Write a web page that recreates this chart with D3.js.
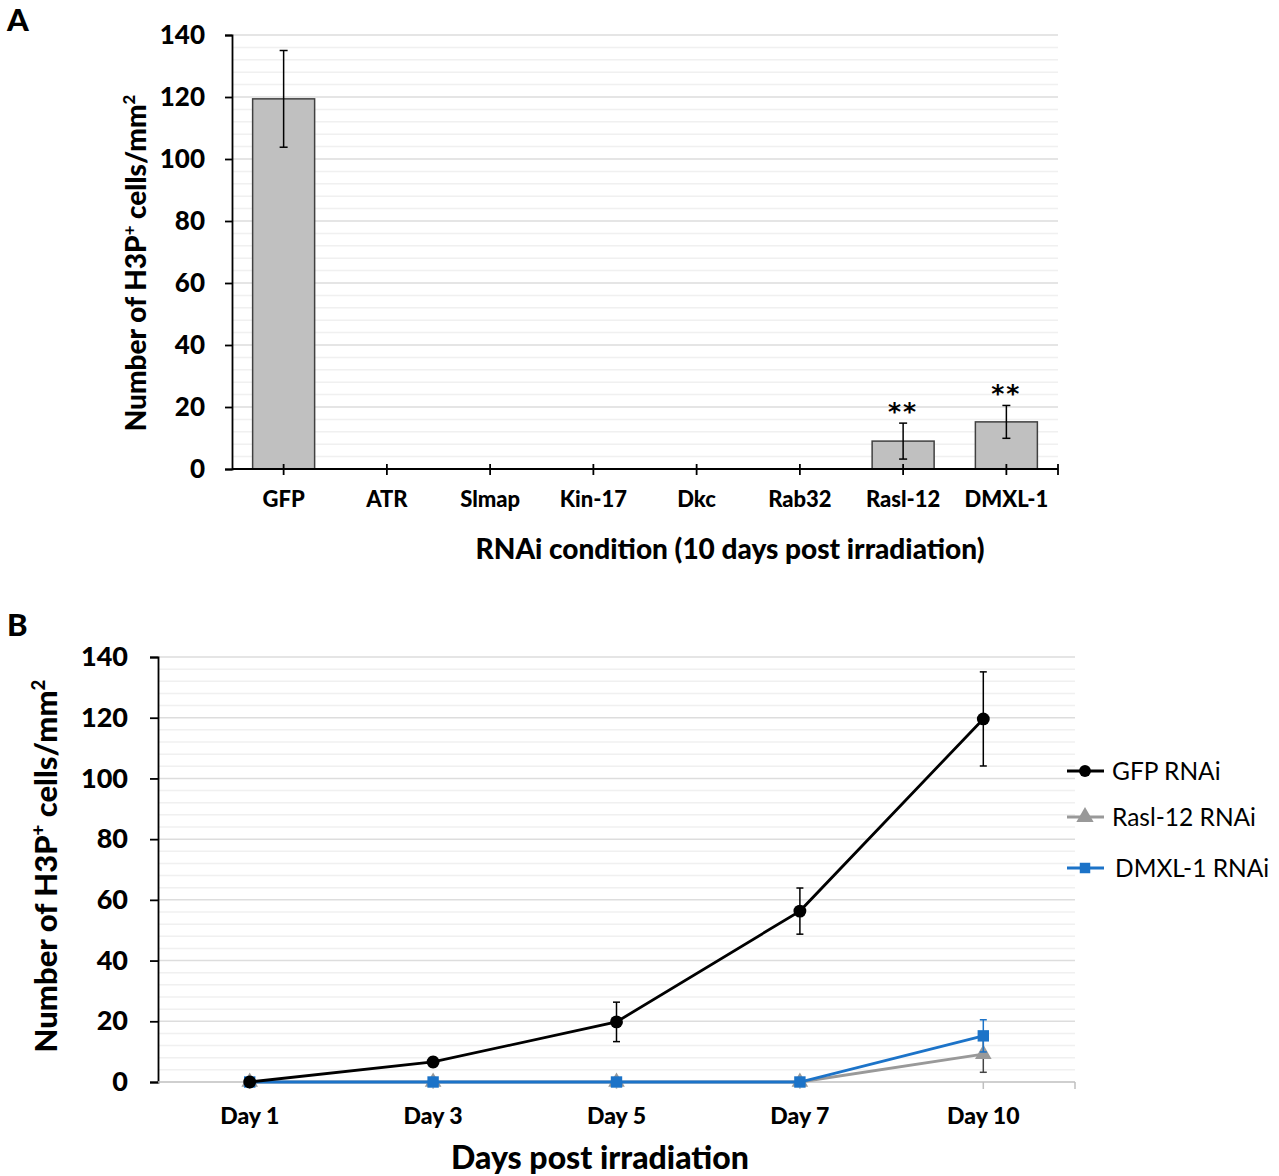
<!DOCTYPE html>
<html>
<head>
<meta charset="utf-8">
<script src="https://cdn.jsdelivr.net/npm/d3@7"></script>
<style>
  body { margin: 0; background: #fff; }
  svg { display: block; font-family: Lato, "Open Sans", sans-serif; }
</style>
</head>
<body>
<svg id="chart" width="1279" height="1176"></svg>
<script>
// Panel A: H3P+ cell counts by RNAi condition, 10 days post irradiation
const conditions = ["GFP", "ATR", "Slmap", "Kin-17", "Dkc", "Rab32", "Rasl-12", "DMXL-1"];
const condMeans  = [119.4, 0, 0, 0, 0, 0, 9.0, 15.2];
const condErrors = [15.6, 0, 0, 0, 0, 0, 5.8, 5.3];
const condStars  = ["", "", "", "", "", "", "**", "**"];

// Panel B: time course
const days = ["Day 1", "Day 3", "Day 5", "Day 7", "Day 10"];
const gfpMeans   = [0, 6.6, 19.8, 56.3, 119.6];
const gfpErrors  = [0, 1.5, 6.5, 7.6, 15.5];
const raslMeans  = [0, 0, 0, 0, 9.2];
const raslErrors = [0, 0, 0, 0, 6.0];
const dmxlMeans  = [0, 0, 0, 0, 15.2];
const dmxlErrors = [0, 0, 0, 0, 5.3];
const seriesNames = ["GFP RNAi", "Rasl-12 RNAi", "DMXL-1 RNAi"];

const yTicks = [0, 20, 40, 60, 80, 100, 120, 140];
const HEAVY = 900;

const svg = d3.select("#chart");

function gridlines(g, y, x0, x1) {
  const minor = d3.range(0, 141, 4).filter(v => v % 20 !== 0);
  g.selectAll(".minor").data(minor).join("line")
    .attr("x1", x0).attr("x2", x1)
    .attr("y1", d => y(d)).attr("y2", d => y(d))
    .attr("stroke", "#f0f0f0").attr("stroke-width", 1.5);
  g.selectAll(".major").data(yTicks.slice(1)).join("line")
    .attr("x1", x0).attr("x2", x1)
    .attr("y1", d => y(d)).attr("y2", d => y(d))
    .attr("stroke", "#dddddd").attr("stroke-width", 1.5);
}

function yAxisTitle(g, cx, cy, size) {
  const t = g.append("text")
    .attr("transform", `translate(${cx},${cy}) rotate(-90)`)
    .attr("text-anchor", "middle")
    .attr("font-weight", HEAVY)
    .attr("font-size", size)
    .attr("fill", "#000");
  t.append("tspan").text("Number of H3P");
  t.append("tspan").text("+").attr("font-size", size * 0.6).attr("dy", -size * 0.4);
  t.append("tspan").text(" cells/mm").attr("font-size", size).attr("dy", size * 0.4);
  t.append("tspan").text("2").attr("font-size", size * 0.6).attr("dy", -size * 0.4);
}

function styleAxis(g, fontSize) {
  g.selectAll(".domain").attr("stroke", "#000").attr("stroke-width", 1.8);
  g.selectAll(".tick line").attr("stroke", "#000").attr("stroke-width", 1.8);
  g.selectAll(".tick text").attr("font-size", fontSize).attr("font-weight", HEAVY)
    .attr("fill", "#000").attr("font-family", "Lato, 'Open Sans', sans-serif");
}

// ---------- Panel A ----------
{
  const left = 232, right = 1058, top = 35, bottom = 469;
  const xc = d3.scaleBand().domain(conditions).range([left, right]);
  const y = d3.scaleLinear().domain([0, 140]).range([bottom, top]);
  const g = svg.append("g");

  gridlines(g.append("g"), y, left, right);

  const bars = conditions.map((c, i) => ({ c, v: condMeans[i], e: condErrors[i], s: condStars[i] }));

  g.append("g").selectAll("rect").data(bars.filter(d => d.v > 0)).join("rect")
    .attr("x", d => xc(d.c) + xc.bandwidth() / 2 - 31)
    .attr("width", 62)
    .attr("y", d => y(d.v))
    .attr("height", d => y(0) - y(d.v))
    .attr("fill", "#c0c0c0").attr("stroke", "#404040").attr("stroke-width", 1.5);

  const eb = g.append("g").selectAll("g").data(bars.filter(d => d.e > 0)).join("g")
    .attr("transform", d => `translate(${xc(d.c) + xc.bandwidth() / 2},0)`);
  eb.append("line").attr("y1", d => y(d.v + d.e)).attr("y2", d => y(d.v - d.e))
    .attr("stroke", "#000").attr("stroke-width", 1.5);
  eb.append("line").attr("x1", -4).attr("x2", 4).attr("y1", d => y(d.v + d.e)).attr("y2", d => y(d.v + d.e))
    .attr("stroke", "#000").attr("stroke-width", 1.5);
  eb.append("line").attr("x1", -4).attr("x2", 4).attr("y1", d => y(d.v - d.e)).attr("y2", d => y(d.v - d.e))
    .attr("stroke", "#000").attr("stroke-width", 1.5);
  // significance stars above the error bars
  eb.filter(d => d.s).append("text")
    .attr("y", d => y(d.v + d.e) - 3)
    .attr("text-anchor", "middle")
    .attr("font-size", 25).attr("font-weight", "bold")
    .attr("font-family", "'DejaVu Sans', sans-serif")
    .attr("letter-spacing", 2)
    .text(d => d.s);

  // y axis
  const ya = g.append("g").attr("transform", `translate(${left},0)`)
    .call(d3.axisLeft(y).tickValues(yTicks).tickSize(7).tickPadding(20));
  styleAxis(ya, 26);

  // x axis: ticks at category centres plus the closing tick at the right end
  const xa = g.append("g").attr("transform", `translate(0,${bottom})`)
    .call(d3.axisBottom(xc).tickSize(0).tickPadding(22));
  styleAxis(xa, 22);
  xa.select(".domain").attr("d", `M${left},0H${right}`);
  const tickXs = conditions.map(c => xc(c) + xc.bandwidth() / 2).concat([right]);
  xa.selectAll(".xt").data(tickXs).join("line")
    .attr("x1", d => d).attr("x2", d => d).attr("y1", -5).attr("y2", 6)
    .attr("stroke", "#000").attr("stroke-width", 1.8);

  yAxisTitle(g, 146, 263, 28);

  g.append("text").attr("x", 730).attr("y", 559).attr("text-anchor", "middle")
    .attr("font-weight", HEAVY).attr("font-size", 28).text("RNAi condition (10 days post irradiation)");

  g.append("text").attr("x", 7).attr("y", 31).attr("font-weight", HEAVY).attr("font-size", 31).text("A");
}

// ---------- Panel B ----------
{
  const left = 158, right = 1075, top = 657, bottom = 1082;
  const x = d3.scaleBand().domain(days).range([left, right]);
  const cx = d => x(d) + x.bandwidth() / 2;
  const y = d3.scaleLinear().domain([0, 140]).range([bottom, top]);
  const g = svg.append("g");

  gridlines(g.append("g"), y, left, right);

  const ya = g.append("g").attr("transform", `translate(${left},0)`)
    .call(d3.axisLeft(y).tickValues(yTicks).tickSize(8).tickPadding(22));
  styleAxis(ya, 27);

  const xa = g.append("g").attr("transform", `translate(0,${bottom})`)
    .call(d3.axisBottom(x).tickSize(0).tickPadding(26));
  styleAxis(xa, 23);
  xa.select(".domain").attr("stroke", "#bfbfbf").attr("stroke-width", 1.5).attr("d", `M${left},0H${right}`);
  const tickXs = days.map(cx).concat([right]);
  xa.selectAll(".xt").data(tickXs).join("line")
    .attr("x1", d => d).attr("x2", d => d).attr("y1", 0).attr("y2", 7)
    .attr("stroke", "#bfbfbf").attr("stroke-width", 1.5);

  const series = [
    { name: seriesNames[0], means: gfpMeans, errs: gfpErrors, color: "#000000", marker: "circle", capColor: "#000" },
    { name: seriesNames[1], means: raslMeans, errs: raslErrors, color: "#999999", marker: "triangle", capColor: "#444" },
    { name: seriesNames[2], means: dmxlMeans, errs: dmxlErrors, color: "#1c73c8", marker: "square", capColor: "#1c73c8" }
  ];

  const line = d3.line().x(d => cx(d.day)).y(d => y(d.v));
  const sym = { circle: d3.symbolCircle, triangle: d3.symbolTriangle, square: d3.symbolSquare };

  // draw Rasl first so the blue line sits on top, GFP last
  const order = [series[1], series[2], series[0]];
  order.forEach(s => {
    const pts = days.map((day, i) => ({ day, v: s.means[i], e: s.errs[i] }));
    const sg = g.append("g");
    sg.append("path").datum(pts).attr("d", line)
      .attr("fill", "none").attr("stroke", s.color).attr("stroke-width", 2.8);
    const eg = sg.selectAll(".eb").data(pts.filter(p => p.e > 0)).join("g")
      .attr("transform", p => `translate(${cx(p.day)},0)`);
    eg.append("line").attr("y1", p => y(p.v + p.e)).attr("y2", p => y(p.v - p.e))
      .attr("stroke", s.capColor).attr("stroke-width", 1.5);
    eg.append("line").attr("x1", -3.5).attr("x2", 3.5).attr("y1", p => y(p.v + p.e)).attr("y2", p => y(p.v + p.e))
      .attr("stroke", s.capColor).attr("stroke-width", 1.5);
    eg.append("line").attr("x1", -3.5).attr("x2", 3.5).attr("y1", p => y(p.v - p.e)).attr("y2", p => y(p.v - p.e))
      .attr("stroke", s.capColor).attr("stroke-width", 1.5);
    sg.selectAll(".mk").data(pts).join("path")
      .attr("transform", p => `translate(${cx(p.day)},${y(p.v)})`)
      .attr("d", d3.symbol().type(sym[s.marker]).size(s.marker === "triangle" ? 120 : 130))
      .attr("fill", s.color);
  });

  // legend
  const legY = [771, 817, 868];
  const lg = g.append("g");
  series.forEach((s, i) => {
    lg.append("line").attr("x1", 1067).attr("x2", 1104).attr("y1", legY[i]).attr("y2", legY[i])
      .attr("stroke", s.color).attr("stroke-width", 2.8);
    lg.append("path").attr("transform", `translate(1085,${legY[i]})`)
      .attr("d", d3.symbol().type(sym[s.marker]).size(s.marker === "triangle" ? 130 : 110))
      .attr("fill", s.color);
    lg.append("text").attr("x", i === 2 ? 1115 : 1112).attr("y", legY[i] + 9)
      .attr("font-size", 24.5).attr("fill", "#000").text(s.name);
  });

  yAxisTitle(g, 57, 866, 31);

  g.append("text").attr("x", 600).attr("y", 1169).attr("text-anchor", "middle")
    .attr("font-weight", HEAVY).attr("font-size", 32).text("Days post irradiation");

  g.append("text").attr("x", 7).attr("y", 636).attr("font-weight", HEAVY).attr("font-size", 31).text("B");
}
</script>
</body>
</html>
